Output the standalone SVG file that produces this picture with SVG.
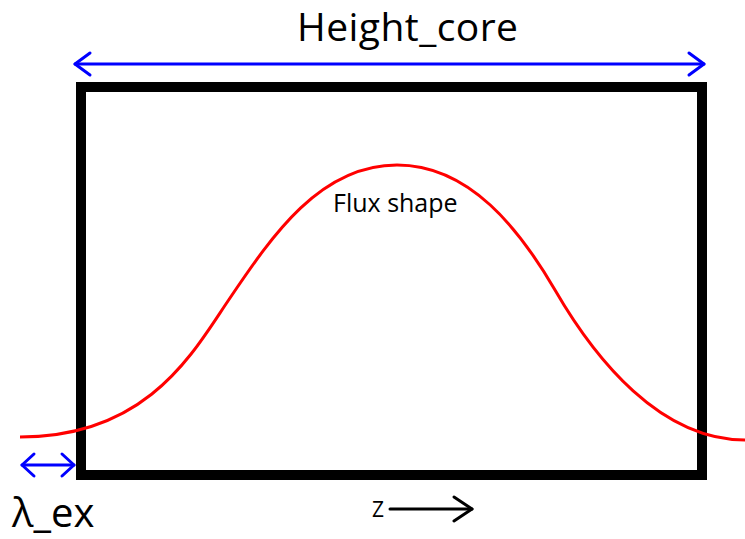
<svg xmlns="http://www.w3.org/2000/svg" width="745" height="539" viewBox="0 0 745 539">
<style>
.lbl{font-family:"Open Sans","Liberation Sans",sans-serif;fill:#000}
.blue{stroke:#0000ff;stroke-width:3;fill:none;stroke-linecap:round;stroke-linejoin:round}
</style>
<defs>
<marker id="bh" markerUnits="userSpaceOnUse" markerWidth="30" markerHeight="30" refX="0" refY="15" orient="auto-start-reverse" viewBox="-20 0 30 30">
<path d="M-15,4 L0,15 L-15,26" fill="none" stroke="#0000ff" stroke-width="3" stroke-linecap="round" stroke-linejoin="round"/>
</marker>
<marker id="bhs" markerUnits="userSpaceOnUse" markerWidth="30" markerHeight="30" refX="0" refY="15" orient="auto-start-reverse" viewBox="-20 0 30 30">
<path d="M-12,4 L0,15 L-12,26" fill="none" stroke="#0000ff" stroke-width="3" stroke-linecap="round" stroke-linejoin="round"/>
</marker>
<marker id="kh" markerUnits="userSpaceOnUse" markerWidth="30" markerHeight="30" refX="0" refY="15" orient="auto" viewBox="-22 0 30 30">
<path d="M-18,3 L0,15 L-18,27" fill="none" stroke="#000" stroke-width="3" stroke-linecap="round" stroke-linejoin="round"/>
</marker>
</defs>
<rect width="745" height="539" fill="#fff"/>
<g id="core">
<rect x="81" y="87" width="621" height="388" fill="none" stroke="#000" stroke-width="10"/>
</g>
<g id="flux">
<path d="M20,437 C150,437 195,349 230,298 C272,236 320,165 397,165 C470,165 520,230 555,290 C595,359 660,440 745,440" fill="none" stroke="#ff0000" stroke-width="3"/>
<text class="lbl" x="333" y="212" font-size="25">Flux shape</text>
</g>
<g id="connectors">
<line class="blue" x1="75" y1="64" x2="704" y2="64" marker-start="url(#bh)" marker-end="url(#bh)"/>
<line class="blue" x1="22" y1="465" x2="74" y2="465" marker-start="url(#bhs)" marker-end="url(#bhs)"/>
<line x1="390" y1="509" x2="472" y2="509" stroke="#000" stroke-width="3" stroke-linecap="round" marker-end="url(#kh)"/>
</g>
<g id="labels">
<text class="lbl" x="297" y="41" font-size="39" textLength="221">Height_core</text>
<text class="lbl" x="12" y="527" font-size="40">λ_ex</text>
<text class="lbl" x="372" y="517" font-size="21">Z</text>
</g>
</svg>
